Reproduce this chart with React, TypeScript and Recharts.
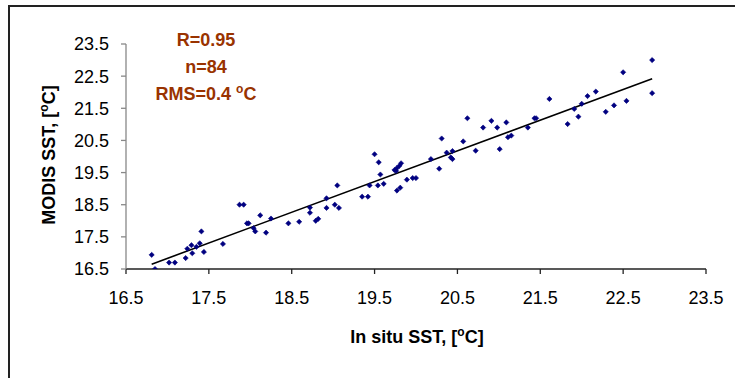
import React from 'react';
import { ScatterChart, Scatter, XAxis, YAxis, Customized } from 'recharts';

const insituSST = [
  16.81, 16.85, 17.02, 17.09, 17.22, 17.24, 17.29, 17.30, 17.35, 17.39,
  17.41, 17.44, 17.67, 17.87, 17.92, 17.96, 17.98, 18.04, 18.06, 18.12,
  18.19, 18.25, 18.46, 18.59, 18.72, 18.72, 18.79, 18.82, 18.92, 18.92,
  19.02, 19.05, 19.07, 19.35, 19.42, 19.44, 19.50, 19.54, 19.55, 19.57,
  19.61, 19.74, 19.76, 19.77, 19.80, 19.82, 19.77, 19.81, 19.89, 19.96,
  20.00, 20.18, 20.28, 20.31, 20.37, 20.42, 20.44, 20.44, 20.57, 20.62,
  20.72, 20.81, 20.91, 20.98, 21.01, 21.09, 21.11, 21.15, 21.35, 21.43,
  21.45, 21.61, 21.83, 21.91, 21.96, 22.00, 22.07, 22.17, 22.29, 22.39,
  22.50, 22.54, 22.85, 22.85,
];
const modisSST = [
  16.94, 16.50, 16.70, 16.70, 16.84, 17.13, 17.24, 16.99, 17.19, 17.30,
  17.67, 17.03, 17.28, 18.50, 18.50, 17.92, 17.92, 17.77, 17.67, 18.17,
  17.63, 18.07, 17.92, 17.97, 18.41, 18.25, 18.00, 18.06, 18.70, 18.40,
  18.50, 19.10, 18.40, 18.75, 18.75, 19.10, 20.07, 19.10, 19.82, 19.44,
  19.15, 19.58, 19.55, 19.64, 19.71, 19.79, 18.94, 19.03, 19.28, 19.33,
  19.33, 19.92, 19.62, 20.56, 20.12, 19.97, 19.92, 20.17, 20.47, 21.19,
  20.18, 20.90, 21.11, 20.90, 20.23, 21.06, 20.60, 20.65, 20.90, 21.19,
  21.19, 21.79, 21.01, 21.48, 21.24, 21.64, 21.88, 22.02, 21.39, 21.59,
  22.62, 21.73, 23.00, 21.97,
];
const trendX = [16.81, 22.85];
const trendY = [16.65, 22.42];
const axisTicks = [16.5, 17.5, 18.5, 19.5, 20.5, 21.5, 22.5, 23.5];
const statLines = ['R=0.95', 'n=84', 'RMS=0.4 '];

const points = insituSST.map((x, i) => ({ x, y: modisSST[i] }));
const trend = trendX.map((x, i) => ({ x, y: trendY[i] }));

const FONT = '"Liberation Sans", Arial, sans-serif';

const Diamond = (props: any) => {
  const { cx, cy } = props;
  if (cx == null || cy == null) return null;
  const r = 2.6;
  return (
    <polygon
      points={`${cx},${cy - r} ${cx + r},${cy} ${cx},${cy + r} ${cx - r},${cy}`}
      fill="#000080"
      stroke="#000080"
      strokeWidth={0.6}
    />
  );
};

const Texts = () => (
  <g fontFamily={FONT}>
    <text x={206} y={46} textAnchor="middle" fontSize={18} fontWeight="bold" fill="#993300">{statLines[0]}</text>
    <text x={206} y={73} textAnchor="middle" fontSize={18} fontWeight="bold" fill="#993300">{statLines[1]}</text>
    <text x={206} y={100} textAnchor="middle" fontSize={18} fontWeight="bold" fill="#993300">
      {statLines[2]}
      <tspan fontSize={12} dy={-7}>o</tspan>
      <tspan dy={7}>C</tspan>
    </text>
    <text x={417} y={343} textAnchor="middle" fontSize={18} fontWeight="bold" fill="#000">
      In situ SST, [<tspan fontSize={12} dy={-7}>o</tspan><tspan dy={7}>C]</tspan>
    </text>
    <text
      x={0}
      y={0}
      transform="translate(55,155) rotate(-90)"
      textAnchor="middle"
      fontSize={18}
      fontWeight="bold"
      fill="#000"
    >
      MODIS SST, [<tspan fontSize={12} dy={-7}>o</tspan><tspan dy={7}>C]</tspan>
    </text>
  </g>
);

export default function App() {
  return (
    <div style={{ position: 'absolute', left: 0, top: 0, width: 735, height: 378, overflow: 'hidden', background: '#fff' }}>
      <div
        style={{
          position: 'absolute',
          left: 8,
          top: 5,
          width: 760,
          height: 400,
          border: '2px solid #222',
          boxSizing: 'border-box',
        }}
      />
      <div style={{ position: 'absolute', left: 0, top: 0 }}>
        <ScatterChart width={735} height={378} margin={{ top: 44, right: 29, bottom: 79, left: 60 }}>
          <XAxis
            type="number"
            dataKey="x"
            domain={[16.5, 23.5]}
            ticks={axisTicks}
            allowDataOverflow
            tickFormatter={(v: number) => v.toFixed(1)}
            axisLine={{ stroke: '#222', strokeWidth: 1.3 }}
            tickLine={{ stroke: '#222', strokeWidth: 1.3 }}
            tickSize={5}
            tickMargin={17}
            height={30}
            tick={{ fill: '#000', fontSize: 18, fontFamily: FONT }}
          />
          <YAxis
            type="number"
            dataKey="y"
            domain={[16.5, 23.5]}
            ticks={axisTicks}
            allowDataOverflow
            tickFormatter={(v: number) => v.toFixed(1)}
            axisLine={{ stroke: '#888', strokeWidth: 1.3 }}
            tickLine={{ stroke: '#888', strokeWidth: 1.3 }}
            tickSize={5}
            tickMargin={12}
            width={66}
            tick={{ fill: '#000', fontSize: 18, fontFamily: FONT }}
          />
          <Scatter
            data={trend}
            line={{ stroke: '#000', strokeWidth: 1.6 }}
            shape={() => null}
            isAnimationActive={false}
          />
          <Scatter data={points} shape={Diamond} isAnimationActive={false} />
          <Customized component={Texts} />
        </ScatterChart>
      </div>
    </div>
  );
}
